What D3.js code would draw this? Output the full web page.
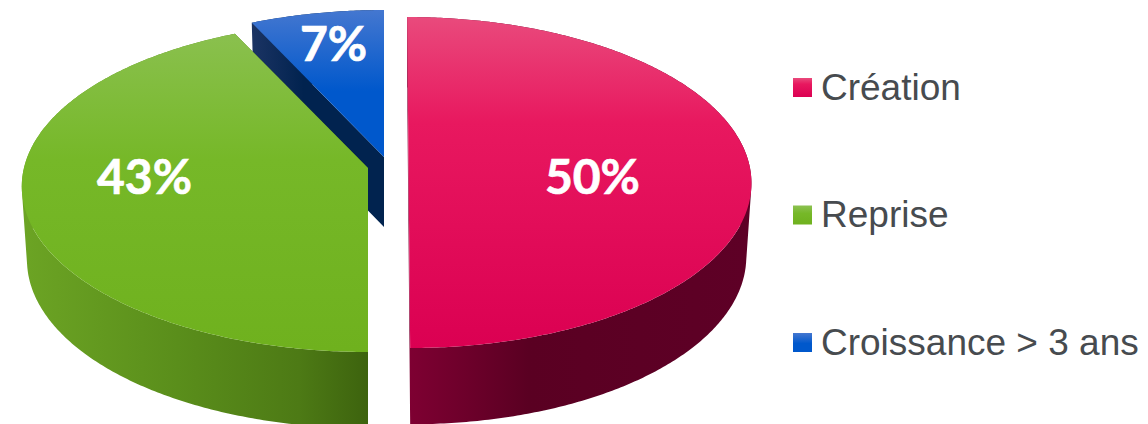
<!DOCTYPE html>
<html>
<head>
<meta charset="utf-8">
<script src="https://cdn.jsdelivr.net/npm/d3@7"></script>
<style>
  html, body { margin: 0; padding: 0; background: #fff; overflow: hidden; }
  svg { display: block; }
</style>
</head>
<body>
<div id="app"></div>
<script>
const categories = ["Création", "Reprise", "Croissance > 3 ans"];
const values = [50, 43, 7];
const labels = ["50%", "43%", "7%"];

const width = 1148;
const height = 424;

// perspective of the disc
const R = 342;
const Ry = 163.4;
const k = 0.1118;

// apex of each exploded slice, and its label placement
const apex = [[408.5, 164], [368, 168], [384, 157]];
const skew = [1.5 / 165, 0, 0];
const widen = [0.996, 1.006, 1];
const labelFrac = [0.54, 0.655, 0.73];
const labelDy = [13, -15, -5];
const legendY = [87.5, 215, 342.5];

const topStops = [
  [[0, "#e94a7c"], [0.32, "#e8185f"], [1, "#db0052"]],
  [[0, "#8cc152"], [0.42, "#76b828"], [1, "#6fb11e"]],
  [[0, "#4477d0"], [0.55, "#0058cc"], [1, "#0058cc"]]
];
const wallStops = [
  [[0, "#7e0032"], [0.35, "#5a0022"], [1, "#5e0026"]],
  [[0, "#6ca424"], [0.45, "#5a8e1b"], [0.8, "#4d7a15"], [1, "#3d630e"]],
  [[0, "#1c3464"], [0.4, "#01234f"], [1, "#01234f"]]
];

const svg = d3.select("#app").append("svg")
  .attr("width", width)
  .attr("height", height)
  .attr("viewBox", `0 0 ${width} ${height}`);

const defs = svg.append("defs");

function gradient(id, stops, x1, y1, x2, y2) {
  const g = defs.append("linearGradient")
    .attr("id", id)
    .attr("gradientUnits", "userSpaceOnUse")
    .attr("x1", x1).attr("y1", y1).attr("x2", x2).attr("y2", y2);
  stops.forEach(s => g.append("stop").attr("offset", s[0]).attr("stop-color", s[1]));
}

gradient("top0", topStops[0], 0, 17, 0, 348);
gradient("top1", topStops[1], 0, 21, 0, 351);
gradient("top2", topStops[2], 0, 10, 0, 157);
gradient("wall0", wallStops[0], 410, 0, 750, 0);
gradient("wall1", wallStops[1], 22, 0, 368, 0);
gradient("wall2", wallStops[2], 250, 0, 384, 0);

// small legend swatches use the same colours, relative to their own box
categories.forEach((c, i) => {
  const g = defs.append("linearGradient").attr("id", "sw" + i)
    .attr("x1", 0).attr("y1", 0).attr("x2", 0).attr("y2", 1);
  topStops[i].forEach(s => g.append("stop").attr("offset", s[0]).attr("stop-color", s[1]));
});

const pie = d3.pie().sort(null).value(d => d);
const arcs = pie(values);

// angle on the disc (clockwise from the back) -> picture position
function project(i, a, r) {
  const u = r * Math.sin(a);
  const v = r * Math.cos(a);
  const w = 1 + k * v;
  const y = -Ry * v / w;
  return [apex[i][0] + widen[i] * R * u / w + skew[i] * y, apex[i][1] + y];
}

// underside of the slice: a bit narrower, and further down at the front
function projectBase(i, a) {
  const p = project(i, a, 1);
  const dy = p[1] - apex[i][1];
  return [apex[i][0] + (p[0] - apex[i][0]) * 0.985, apex[i][1] + dy * 1.018 + 73];
}

const line = d3.line();

function arcPoints(i, fn) {
  const a0 = arcs[i].startAngle;
  const a1 = arcs[i].endAngle;
  const n = Math.ceil((a1 - a0) / 0.01);
  return d3.range(n + 1).map(j => fn(i, a0 + (a1 - a0) * j / n));
}

const rim = (i, a) => project(i, a, 1);

// one path made of thin strips, so the outline is tangent at the sides
function wallPath(top, base, centre, centreBase) {
  const quads = [
    [centre, top[0], base[0], centreBase],
    [centre, top[top.length - 1], base[base.length - 1], centreBase]
  ];
  d3.range(top.length - 1).forEach(j => {
    quads.push([top[j], top[j + 1], base[j + 1], base[j]]);
  });
  return quads
    .map(q => (d3.polygonArea(q) < 0 ? q.slice().reverse() : q))
    .map(q => line(q) + "Z")
    .join("");
}

// back slice first, the others overlap it
[2, 1, 0].forEach(i => {
  const top = arcPoints(i, rim);
  const base = arcPoints(i, projectBase);
  const centre = apex[i];
  const centreBase = [centre[0], centre[1] + 70];

  const slice = svg.append("g").attr("class", "slice");
  slice.append("path")
    .attr("d", wallPath(top, base, centre, centreBase))
    .attr("fill", `url(#wall${i})`);
  slice.append("path")
    .attr("d", line([centre, ...top]) + "Z")
    .attr("fill", `url(#top${i})`);
});

// percentages on top of everything
arcs.forEach((d, i) => {
  const mid = (d.startAngle + d.endAngle) / 2;
  const p = project(i, mid, labelFrac[i]);
  svg.append("text")
    .attr("x", p[0])
    .attr("y", p[1] + labelDy[i])
    .attr("dy", "0.35em")
    .attr("text-anchor", "middle")
    .attr("font-family", "Lato, 'Open Sans', sans-serif")
    .attr("font-weight", 700)
    .attr("font-size", 48)
    .attr("fill", "#fff")
    .attr("stroke", "#fff")
    .attr("stroke-width", 0.7)
    .text(labels[i]);
});

const legend = svg.append("g").attr("class", "legend");
categories.forEach((c, i) => {
  legend.append("rect")
    .attr("x", 793)
    .attr("y", legendY[i] - 9.5)
    .attr("width", 19)
    .attr("height", 19)
    .attr("fill", `url(#sw${i})`);
  legend.append("text")
    .attr("x", 821)
    .attr("y", legendY[i] + 12)
    .attr("font-family", "'Liberation Sans', Arial, sans-serif")
    .attr("font-size", 37)
    .attr("fill", "#474b4f")
    .text(c);
});
</script>
</body>
</html>
